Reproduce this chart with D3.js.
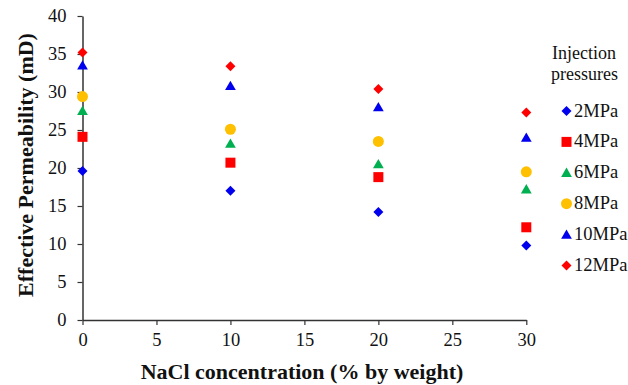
<!DOCTYPE html>
<html>
<head>
<meta charset="utf-8">
<script src="https://cdn.jsdelivr.net/npm/d3@7"></script>
<style>
	body { margin: 0; background: #fff; }
	svg { display: block; }
</style>
</head>
<body>
<svg id="chart"></svg>
<script>
// NaCl concentration (% by weight)
var nacl = [0, 10, 20, 30];
// effective permeability (mD) for each injection pressure
var p2MPa  = [19.6, 17.0, 14.2, 9.8];
var p4MPa  = [24.1, 20.7, 18.8, 12.2];
var p6MPa  = [27.5, 23.2, 20.5, 17.2];
var p8MPa  = [29.4, 25.1, 23.5, 19.5];
var p10MPa = [33.5, 30.8, 28.0, 24.0];
var p12MPa = [35.2, 33.4, 30.4, 27.3];
var seriesNames = ['2MPa', '4MPa', '6MPa', '8MPa', '10MPa', '12MPa'];
var xTicks = [0, 5, 10, 15, 20, 25, 30];
var yTicks = [0, 5, 10, 15, 20, 25, 30, 35, 40];

var width = 628, height = 385;
var serif = "'Liberation Serif'";

var series = [
	{name: seriesNames[0], values: p2MPa,  color: '#0000EE', shape: 'diamond'},
	{name: seriesNames[1], values: p4MPa,  color: '#FF0000', shape: 'square'},
	{name: seriesNames[2], values: p6MPa,  color: '#00B050', shape: 'triangle'},
	{name: seriesNames[3], values: p8MPa,  color: '#FFC000', shape: 'circle'},
	{name: seriesNames[4], values: p10MPa, color: '#0000EE', shape: 'triangle'},
	{name: seriesNames[5], values: p12MPa, color: '#FF0000', shape: 'diamond'}
];

var svg = d3.select('#chart')
	.attr('width', width)
	.attr('height', height);

var x = d3.scaleLinear().domain([0, 30]).range([82.5, 526.3]);
var y = d3.scaleLinear().domain([0, 40]).range([320, 16]);

// axes
var xAxis = svg.append('g')
	.attr('transform', 'translate(0,' + y(0) + ')')
	.call(d3.axisBottom(x).tickValues(xTicks).tickSize(5).tickPadding(8).tickSizeOuter(0));
var yAxis = svg.append('g')
	.attr('transform', 'translate(' + x(0) + ',0)')
	.call(d3.axisLeft(y).tickValues(yTicks).tickSize(5).tickPadding(11).tickSizeOuter(0));

[xAxis, yAxis].forEach(function(a)
{
	a.select('.domain').attr('stroke', '#333').attr('stroke-width', 1.5);
	a.selectAll('.tick line').attr('stroke', '#333').attr('stroke-width', 1.2);
	a.selectAll('.tick text')
		.attr('fill', '#111')
		.style('font-family', serif)
		.style('font-size', '18.5px');
});

// titles
svg.append('text')
	.attr('x', 302)
	.attr('y', 379)
	.attr('text-anchor', 'middle')
	.style('font-family', serif)
	.style('font-weight', 'bold')
	.style('font-size', '22px')
	.attr('fill', '#111')
	.text('NaCl concentration (% by weight)');

svg.append('text')
	.attr('transform', 'translate(33,165) rotate(-90)')
	.attr('text-anchor', 'middle')
	.style('font-family', serif)
	.style('font-weight', 'bold')
	.style('font-size', '22px')
	.attr('fill', '#111')
	.text('Effective Permeability (mD)');

function markerPath(shape)
{
	if(shape == 'diamond') return d3.symbol().type(d3.symbolSquare).size(50)();
	if(shape == 'square') return d3.symbol().type(d3.symbolSquare).size(100)();
	if(shape == 'circle') return d3.symbol().type(d3.symbolCircle).size(95)();
	return d3.symbol().type(d3.symbolTriangle).size(50)();
}

function markerTransform(shape, px, py)
{
	if(shape == 'diamond') return 'translate(' + px + ',' + py + ') rotate(45)';
	if(shape == 'triangle') return 'translate(' + px + ',' + (py + 1) + ')';
	return 'translate(' + px + ',' + py + ')';
}

// points
series.forEach(function(s)
{
	svg.append('g').selectAll('path')
		.data(s.values)
		.enter()
		.append('path')
		.attr('d', markerPath(s.shape))
		.attr('fill', s.color)
		.attr('transform', function(d, i)
		{
			return markerTransform(s.shape, x(nacl[i]), y(d));
		});
});

// legend
var legend = svg.append('g').attr('fill', '#111');
legend.append('text')
	.attr('x', 552)
	.attr('y', 59)
	.style('font-family', serif)
	.style('font-size', '18px')
	.text('Injection');
legend.append('text')
	.attr('x', 551)
	.attr('y', 80)
	.style('font-family', serif)
	.style('font-size', '18px')
	.text('pressures');

var items = legend.selectAll('g.item')
	.data(series)
	.enter()
	.append('g')
	.attr('class', 'item')
	.attr('transform', function(d, i)
	{
		return 'translate(0,' + (111 + i * 30.9) + ')';
	});
items.append('path')
	.attr('d', function(d) { return markerPath(d.shape); })
	.attr('fill', function(d) { return d.color; })
	.attr('transform', function(d) { return markerTransform(d.shape, 566.5, 0); });
items.append('text')
	.attr('x', 574)
	.attr('y', 5.5)
	.style('font-family', serif)
	.style('font-size', '18.5px')
	.text(function(d) { return d.name; });
</script>
</body>
</html>
